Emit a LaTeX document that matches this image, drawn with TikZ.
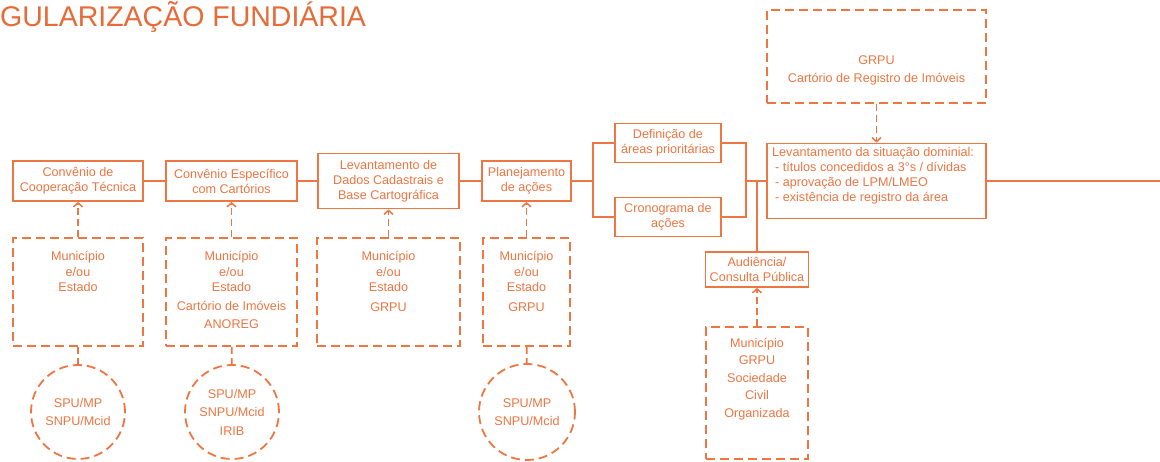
\documentclass[tikz,border=0pt]{standalone}
\usepackage{fontspec}
\setmainfont{Liberation Sans}
\usetikzlibrary{arrows.meta}
\definecolor{org}{RGB}{237,118,66}
\definecolor{orgt}{RGB}{232,106,54}
\begin{document}
\begin{tikzpicture}[x=1pt,y=-1pt,
  every node/.style={font=\fontsize{12.6}{15}\selectfont, text=org},
  sbox/.style={draw=org, line width=1.8pt, align=center, inner sep=0pt},
  dbox/.style={draw=org, line width=1.8pt, dash pattern=on 9pt off 5pt, inner sep=0pt},
  dcirc/.style={circle, draw=org, line width=1.8pt, dash pattern=on 9pt off 5pt, inner sep=0pt, align=center, minimum size=94pt, font=\fontsize{12.6}{18.5}\selectfont},
  conn/.style={draw=org, line width=1.8pt},
  darr/.style={draw=org, line width=1.8pt, dash pattern=on 7pt off 4pt, -{Straight Barb[length=4pt,width=9pt,line width=1.5pt]}},
  dline/.style={draw=org, line width=1.8pt, dash pattern=on 7pt off 4pt},
  lbl/.style={align=center, inner sep=0pt, anchor=north, font=\fontsize{12.6}{15.5}\selectfont}
]
\useasboundingbox[fill=white] (0,0) rectangle (1160,462);

% title
\node[anchor=base west, inner sep=0pt, font=\fontsize{28.5}{30}\selectfont, text=orgt] (title) at (0,27) {GULARIZAÇÃO FUNDIÁRIA};

% main row
\node[sbox, minimum width=130pt, minimum height=40pt] (b1) at (78,181) {Convênio de\\Cooperação Técnica};
\node[sbox, minimum width=131pt, minimum height=40pt] (b2) at (231.5,181) {Convênio Específico\\com Cartórios};
\node[sbox, minimum width=141pt, minimum height=55pt] (b3) at (388.5,181) {Levantamento de\\Dados Cadastrais e\\Base Cartográfica};
\node[sbox, minimum width=89pt, minimum height=40pt] (b4) at (526.5,181) {Planejamento\\de ações};
\node[sbox, minimum width=106pt, minimum height=39pt] (def) at (668,143) {Definição de\\áreas prioritárias};
\node[sbox, minimum width=106pt, minimum height=39pt] (cron) at (668,217) {Cronograma de\\ações};
\node[sbox, minimum width=219pt, minimum height=75pt] (lev) at (876.5,181) {};
\node[lbl, anchor=north west, align=left, font=\fontsize{12.6}{15}\selectfont] (levt) at (772,147.5) {Levantamento da situação dominial:\\\hspace*{3pt}- títulos concedidos a 3°s / dívidas\\\hspace*{3pt}- aprovação de LPM/LMEO\\\hspace*{3pt}- existência de registro da área};
\node[dbox, minimum width=219pt, minimum height=93pt] (grpu) at (876.5,56.5) {};
\node[lbl, font=\fontsize{12.6}{18}\selectfont] (grput) at (876.5,56) {GRPU\\Cartório de Registro de Imóveis};
\node[sbox, minimum width=103pt, minimum height=35pt] (aud) at (757,269.5) {Audiência/\\Consulta Pública};
\node[dbox, minimum width=102pt, minimum height=132pt] (daud) at (757,393) {};
\node[lbl, font=\fontsize{12.6}{17.5}\selectfont] (daudt) at (757,338) {Município\\GRPU\\Sociedade\\Civil\\Organizada};

% dashed boxes
\node[dbox, minimum width=130pt, minimum height=108pt] (dA) at (78,292) {};
\node[dbox, minimum width=131pt, minimum height=108pt] (dB) at (231.5,292) {};
\node[dbox, minimum width=143pt, minimum height=108pt] (dC) at (388.5,292) {};
\node[dbox, minimum width=87pt, minimum height=108pt] (dD) at (526.5,292) {};
\node[lbl] (tA) at (78,251.5) {Município\\e/ou\\Estado};
\node[lbl] (tB) at (231.5,251.5) {Município\\e/ou\\Estado\\[3.5pt]Cartório de Imóveis\\[2.5pt]ANOREG};
\node[lbl] (tC) at (388.5,251.5) {Município\\e/ou\\Estado\\[4pt]GRPU};
\node[lbl] (tD) at (526.5,251.5) {Município\\e/ou\\Estado\\[4pt]GRPU};

% circles
\node[dcirc] (cA) at (78,412) {SPU/MP\\SNPU/Mcid};
\node[dcirc] (cB) at (232,412) {SPU/MP\\SNPU/Mcid\\IRIB};
\node[dcirc, minimum size=96pt] (cD) at (527,412) {SPU/MP\\SNPU/Mcid};

% coordinates
\coordinate (bl) at (593,181);
\coordinate (br) at (746,181);
\coordinate (ja) at (757,181);
\coordinate (exitR) at (1170,181);

% solid connectors
\draw[conn] (b1) -- (b2);
\draw[conn] (b2) -- (b3);
\draw[conn] (b3) -- (b4);
\draw[conn] (b4) -- (bl);
\draw[conn] (bl) |- (def.west);
\draw[conn] (bl) |- (cron.west);
\draw[conn] (def.east) -| (br);
\draw[conn] (cron.east) -| (br);
\draw[conn] (br) -- (lev.west);
\draw[conn] (ja) -- (aud.north);
\draw[conn] (lev.east) -- (exitR);

% dashed connectors
\draw[darr] (dA) -- (b1);
\draw[darr] (dB) -- (b2);
\draw[darr] (dC) -- (b3);
\draw[darr] (dD) -- (b4);
\draw[darr] (grpu) -- (lev);
\draw[darr] (daud) -- (aud);
\draw[dline] (dA) -- (cA);
\draw[dline] (dB) -- (cB);
\draw[dline] (dD) -- (cD);
\end{tikzpicture}
\end{document}
